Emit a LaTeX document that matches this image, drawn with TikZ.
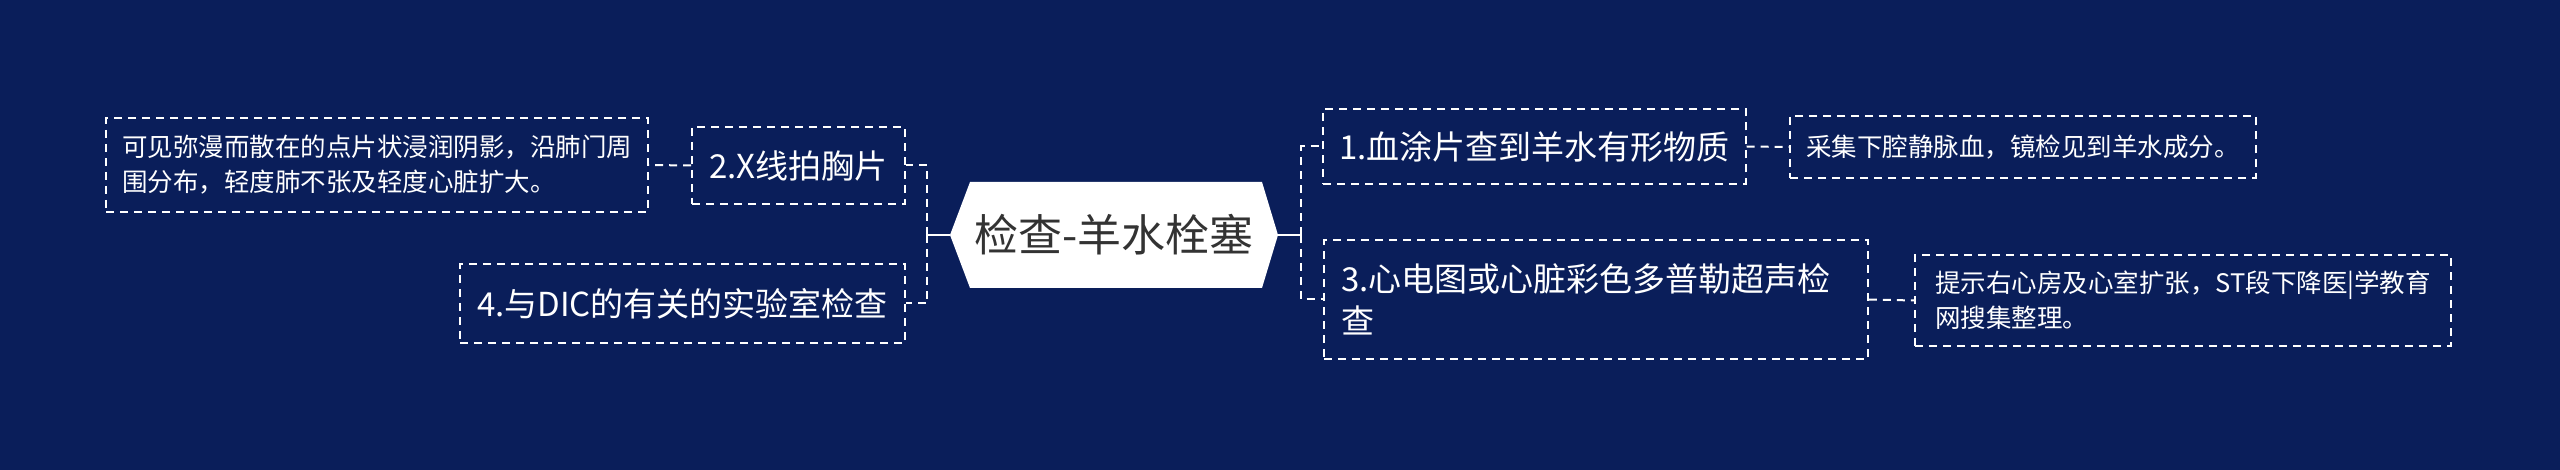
\documentclass[tikz,border=0pt]{standalone}
\usepackage{fontspec}
\setmainfont{Noto Sans CJK SC}
\usetikzlibrary{calc}
\definecolor{bg}{RGB}{10,30,90}
\definecolor{ctext}{RGB}{51,51,51}
\begin{document}
\begin{tikzpicture}[x=1pt,y=-1pt,
  dbox/.style={draw=white,line width=1.8pt,dash pattern=on 8pt off 6pt,text=white,align=left,inner xsep=16pt,inner ysep=0pt},
  big/.style={font=\fontsize{33}{42}\selectfont},
  small/.style={font=\fontsize{25.5}{35}\selectfont},
  link/.style={draw=white,line width=2pt,dash pattern=on 8pt off 6pt},
  solidlink/.style={draw=white,line width=2.5pt}]
\fill[bg] (0,0) rectangle (2560,470);
\useasboundingbox (0,0) rectangle (2560,470);
% central hexagon
\fill[white] (950,235) -- (970,182) -- (1262,182) -- (1278,235) -- (1262,288) -- (970,288) -- cycle;
\node (c) at (1114,235) [text=ctext, font=\fontsize{44}{50}\selectfont, minimum width=328, minimum height=106, inner sep=0pt] {检查-羊水栓塞};
\coordinate (rt) at (1301,235);
\coordinate (lt) at (927,235);
% right side
\node[dbox,big,minimum width=421,minimum height=75] (b1) at (1534.5,146.5) {1.血涂片查到羊水有形物质};
\node[dbox,small,minimum width=460,minimum height=62] (r1) at (2023,147) {采集下腔静脉血，镜检见到羊水成分。};
\node[dbox,big,text width=510,minimum height=119,inner xsep=17pt] (b3) at (1596,299.5) {3.心电图或心脏彩色多普勒超声检\\查};
\node[dbox,small,minimum width=536,minimum height=91] (r3) at (2183,300.5) {提示右心房及心室扩张，ST段下降医|学教育\\网搜集整理。};
% left side
\node[dbox,big,minimum width=213,minimum height=77] (b2) at (798.5,165.5) {2.X线拍胸片};
\node[dbox,big,minimum width=445,minimum height=79] (b4) at (682.5,303.5) {4.与DIC的有关的实验室检查};
\node[dbox,small,minimum width=536,minimum height=94] (l2) at (377,165) {可见弥漫而散在的点片状浸润阴影，沿肺门周\\围分布，轻度肺不张及轻度心脏扩大。};
% connectors
\draw[solidlink] (c.east) -- (rt);
\draw[solidlink] (c.west) -- (lt);
\draw[link] (rt) |- (b1.west);
\draw[link] (rt) |- (b3.west);
\draw[link] (lt) |- (b2.east);
\draw[link] (lt) |- (b4.east);
\draw[link] (b1.east) -- (r1.west);
\draw[link] (b3.east) -- (r3.west);
\draw[link] (b2.west) -- (l2.east);
\end{tikzpicture}
\end{document}
